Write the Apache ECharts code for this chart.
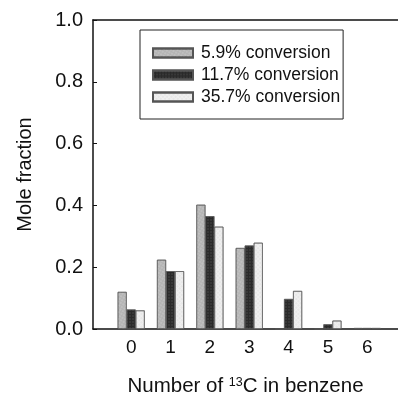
<!DOCTYPE html>
<html><head><meta charset="utf-8">
<script src="https://cdn.jsdelivr.net/npm/echarts@6/dist/echarts.min.js"></script>
<style>html,body{margin:0;padding:0;background:#fff}#c{width:398px;height:402px}</style>
</head><body><div id="c"></div>
<script>
const xLabels = [0, 1, 2, 3, 4, 5, 6];
const seriesNames = ['5.9% conversion', '11.7% conversion', '35.7% conversion'];
const conv59 = [0.120, 0.224, 0.402, 0.262, 0, 0, 0.003];
const conv117 = [0.063, 0.187, 0.365, 0.270, 0.097, 0.015, 0.003];
const conv357 = [0.060, 0.187, 0.331, 0.279, 0.123, 0.027, 0.003];
const yTicks = [0, 0.2, 0.4, 0.6, 0.8, 1.0];

const colors = ['#b4b4b4', '#2a2a2a', '#f0f0f0'];
const decals = [
  {symbol:'rect', color:'rgba(255,255,255,0.6)', symbolSize:0.5, dashArrayX:[2,1], dashArrayY:[2,1]},
  {symbol:'rect', color:'rgba(140,140,140,0.6)', symbolSize:0.5, dashArrayX:[2,1], dashArrayY:[2,1]},
  {symbol:'rect', color:'rgba(150,150,150,0.5)', symbolSize:0.4, dashArrayX:[2,1], dashArrayY:[2,1]}
];
const allData = [conv59, conv117, conv357];
const font = 'Liberation Sans, Arial, sans-serif';

const chart = echarts.init(document.getElementById('c'), null, {renderer:'canvas'});
chart.setOption({
  animation: false,
  backgroundColor: '#fff',
  aria: {decal: {show: true}},
  grid: {left: 93, top: 20, right: 0, bottom: 70},
  legend: {
    orient: 'vertical', left: 140, top: 30,
    data: seriesNames,
    itemWidth: 40, itemHeight: 9, itemGap: 4,
    padding: [14, 3, 13, 12],
    borderColor: '#222', borderWidth: 1, backgroundColor: '#fff',
    icon: 'rect',
    textStyle: {fontFamily: font, fontSize: 17.5, color: '#111', padding: [0,0,0,3]}
  },
  xAxis: [{
    type: 'value', min: -0.97, max: 6.78,
    axisLine: {show: true, onZero: false, lineStyle: {color: '#111', width: 1.5}},
    axisTick: {show: false},
    splitLine: {show: false},
    axisLabel: {customValues: xLabels, fontFamily: font, fontSize: 19, color: '#111', margin: 9,
      formatter: v => String(v)},
    name: '{a|Number of }{s|13}{a|C in benzene}',
    nameLocation: 'middle', nameGap: 47,
    nameTextStyle: {rich: {
      a: {fontFamily: font, fontSize: 20.5, color: '#111'},
      s: {fontFamily: font, fontSize: 12.5, color: '#111', verticalAlign: 'top', padding: [0,0,8,0]}
    }}
  }, {
    type: 'value', position: 'top', min: -0.97, max: 6.78,
    axisLine: {show: true, onZero: false, lineStyle: {color: '#111', width: 1.5}},
    axisTick: {show: false}, axisLabel: {show: false}, splitLine: {show: false}
  }],
  yAxis: {
    type: 'value', min: 0, max: 1, interval: 0.2,
    axisLine: {show: true, onZero: false, lineStyle: {color: '#111', width: 1.5}},
    axisTick: {show: true, inside: true, length: 4, lineStyle: {color: '#111'}},
    splitLine: {show: false},
    axisLabel: {fontFamily: font, fontSize: 20, color: '#111', margin: 10,
      formatter: v => v.toFixed(1)},
    name: 'Mole fraction', nameLocation: 'middle', nameGap: 58,
    nameTextStyle: {fontFamily: font, fontSize: 20, color: '#111'}
  },
  series: seriesNames.map((n, i) => ({
    name: n, type: 'bar', xAxisIndex: 0,
    barWidth: 9, barGap: '0%',
    data: allData[i].map((v, k) => [xLabels[k], v]),
    itemStyle: {color: colors[i], borderColor: '#555', borderWidth: 0.6, decal: decals[i]}
  }))
});
</script></body></html>
